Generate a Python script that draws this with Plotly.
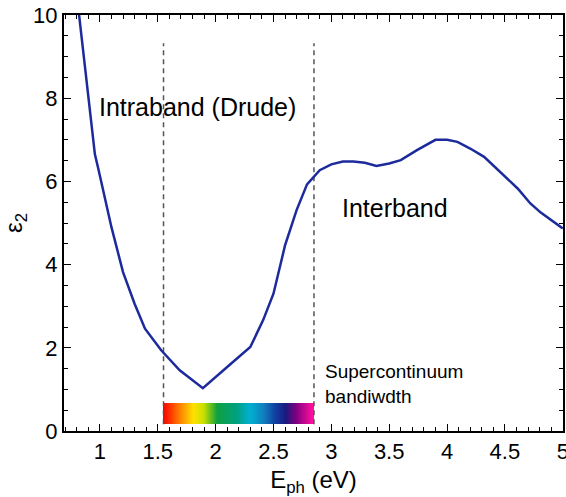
import numpy as np
import plotly.graph_objects as go

# eps2 spectrum
photon_ev = [0.80, 0.88, 0.957, 0.987, 1.10, 1.20, 1.30, 1.39, 1.53, 1.69, 1.89,
             2.10, 2.30, 2.41, 2.50, 2.60, 2.70, 2.79, 2.90, 3.00, 3.10, 3.19,
             3.29, 3.39, 3.50, 3.60, 3.74, 3.90, 4.00, 4.09, 4.20, 4.32, 4.46,
             4.61, 4.72, 4.81, 5.00]
eps2 = [10.5, 8.5, 6.65, 6.30, 4.90, 3.82, 3.06, 2.46, 1.94, 1.46, 1.03,
        1.54, 2.02, 2.66, 3.30, 4.46, 5.31, 5.93, 6.27, 6.41, 6.48, 6.48,
        6.45, 6.37, 6.43, 6.51, 6.75, 7.00, 7.00, 6.95, 6.79, 6.59, 6.23,
        5.83, 5.47, 5.25, 4.87]

# supercontinuum window
sc_edges_ev = [1.55, 2.85]
marker_span = [0.16, 9.32]
bar_span = [0.16, 0.67]

rainbow = [
    [0.00, "#ff0000"],
    [0.11, "#ff8000"],
    [0.20, "#ffe000"],
    [0.27, "#c8e000"],
    [0.36, "#10a040"],
    [0.49, "#00a080"],
    [0.58, "#00b0d0"],
    [0.67, "#1080c0"],
    [0.75, "#1040a0"],
    [0.82, "#1a1a80"],
    [0.89, "#800080"],
    [1.00, "#ff10a0"],
]

FONT = "Liberation Sans, Arial, sans-serif"

fig = go.Figure()

# colour strip for the supercontinuum, made of thin bars
n = 150
edges = np.linspace(sc_edges_ev[0], sc_edges_ev[1], n + 1)
fig.add_trace(go.Bar(
    x=(edges[:-1] + edges[1:]) / 2,
    y=[bar_span[1] - bar_span[0]] * n,
    base=bar_span[0],
    width=(edges[1] - edges[0]) * 1.05,
    marker=dict(color=np.linspace(0, 1, n), colorscale=rainbow, line=dict(width=0)),
    hoverinfo="skip",
))

# dashed window markers
for xe in sc_edges_ev:
    fig.add_trace(go.Scatter(
        x=[xe, xe], y=marker_span, mode="lines",
        line=dict(color="#555555", width=1.5, dash="5px,4px"),
        showlegend=False, hoverinfo="skip",
    ))

fig.add_trace(go.Scatter(
    x=photon_ev, y=eps2, mode="lines",
    line=dict(color="#1c2a9c", width=2.5),
    showlegend=False,
))

fig.add_annotation(x=1.844, y=7.78, text="Intraband (Drude)", showarrow=False,
                   font=dict(size=25, color="black", family=FONT))
fig.add_annotation(x=3.546, y=5.35, text="Interband", showarrow=False,
                   font=dict(size=25, color="black", family=FONT))
fig.add_annotation(x=2.93, y=1.14, text="Supercontinuum<br>bandiwdth", showarrow=False,
                   xanchor="left", align="left",
                   font=dict(size=19, color="black", family=FONT))

# automargin off: margins are fixed, no second layout pass
axis_common = dict(
    automargin=False,
    showline=True, linecolor="black", linewidth=2, mirror="allticks",
    ticks="inside", tickcolor="black", ticklen=7,
    showgrid=False, zeroline=False, ticklabeloverflow="allow",
    tickfont=dict(size=22, color="black", family=FONT),
)

fig.update_xaxes(
    range=[0.69, 5.002], tick0=1, dtick=0.5,
    minor=dict(dtick=0.1, ticks="inside", ticklen=4, tickcolor="black"),
    title=dict(text="E<sub>ph</sub> (eV)", font=dict(size=24, color="black", family=FONT)),
    **axis_common,
)
fig.update_yaxes(
    range=[0, 10], tick0=0, dtick=2,
    minor=dict(dtick=0.5, ticks="inside", ticklen=4, tickcolor="black"),
    title=dict(text="ε<sub>2</sub>", font=dict(size=24, color="black", family=FONT)),
    **axis_common,
)

fig.update_layout(
    template="none",
    width=566, height=497,
    margin=dict(l=64, r=3, t=15, b=66, autoexpand=False),
    plot_bgcolor="white", paper_bgcolor="white",
    showlegend=False, bargap=0,
)

# drop the default 8px body margin so the figure sits at the page corner
fig.write_html("out.html", config={"displayModeBar": False},
               post_script="document.body.style.margin='0';")
